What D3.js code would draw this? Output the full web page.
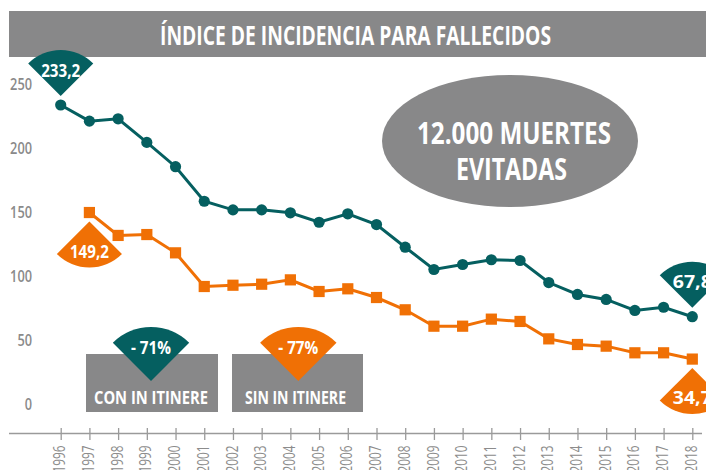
<!DOCTYPE html>
<html>
<head>
<meta charset="utf-8">
<script src="https://cdn.jsdelivr.net/npm/d3@7"></script>
<style>
  html, body { margin: 0; padding: 0; background: #fff; }
  svg { display: block; font-family: "Open Sans", "Noto Sans", sans-serif; }
</style>
</head>
<body>
<svg id="chart" width="706" height="470"></svg>
<script>
// ---------- data ----------
const years = ["1996","1997","1998","1999","2000","2001","2002","2003","2004","2005","2006","2007","2008","2009","2010","2011","2012","2013","2014","2015","2016","2017","2018"];
const conItinere = [233.2, 220.6, 222.4, 204.0, 185.0, 158.0, 151.3, 151.3, 149.0, 141.6, 148.2, 139.8, 122.1, 104.7, 108.6, 112.3, 111.7, 94.5, 85.2, 81.3, 72.7, 75.2, 67.8];
const sinItinere = [null, 149.2, 131.3, 132.0, 117.7, 91.4, 92.4, 93.2, 96.6, 87.5, 89.6, 82.8, 73.2, 60.4, 60.4, 65.9, 64.1, 50.5, 46.1, 44.8, 39.6, 39.6, 34.7];
const yTicks = [0, 50, 100, 150, 200, 250];
const title = "ÍNDICE DE INCIDENCIA PARA FALLECIDOS";
const bubbleLines = ["12.000 MUERTES", "EVITADAS"];
const boxLabels = ["CON IN ITINERE", "SIN IN ITINERE"];
const reductions = ["- 71%", "- 77%"];
const endLabels = { conFirst: "233,2", sinFirst: "149,2", conLast: "67,8", sinLast: "34,7" };

// ---------- style ----------
const GREEN = "#055f60";
const ORANGE = "#f07005";
const GRAY = "#888889";
const AXIS_GRAY = "#9a9a9a";
const LABEL_GRAY = "#8a8a8a";

const svg = d3.select("#chart");

const x = d3.scalePoint().domain(years).range([60.7, 692.3]);
const y = d3.scaleLinear().domain([0, 250]).range([403.5, 83.5]);

function label(parent, px, py, str, opts) {
  const t = parent.append("text")
    .attr("x", px).attr("y", py)
    .attr("text-anchor", opts.anchor || "middle")
    .attr("font-size", opts.size)
    .attr("font-weight", opts.weight || 700)
    .attr("fill", opts.fill || "#fff")
    .text(str);
  if (opts.width) t.attr("textLength", opts.width).attr("lengthAdjust", "spacingAndGlyphs");
  return t;
}

// ---------- title bar ----------
svg.append("rect").attr("x", 9).attr("y", 11).attr("width", 697).attr("height", 46).attr("fill", GRAY);
label(svg, 355.5, 45, title, { size: 26, width: 391 });

// ---------- big ellipse ----------
svg.append("ellipse").attr("cx", 510).attr("cy", 141).attr("rx", 128).attr("ry", 66).attr("fill", GRAY);
label(svg, 514, 144, bubbleLines[0], { size: 30, width: 194 });
label(svg, 511.5, 180, bubbleLines[1], { size: 30, width: 111 });

// ---------- y labels ----------
const yl = svg.append("g");
yTicks.forEach(v => {
  label(yl, 32, y(v) + 6, String(v), { size: 16, weight: 600, fill: LABEL_GRAY, anchor: "end",
    width: String(v).length * 7.3 });
});

// ---------- x axis ----------
svg.append("line").attr("x1", 9).attr("x2", 702).attr("y1", 433.5).attr("y2", 433.5)
  .attr("stroke", AXIS_GRAY).attr("stroke-width", 1.6);
const xAxis = svg.append("g").attr("transform", "translate(0,433.5)")
  .call(d3.axisBottom(x).tickSize(0));
xAxis.select(".domain").remove();
xAxis.selectAll(".tick line").attr("y1", -5.5).attr("y2", 6.5).attr("stroke", AXIS_GRAY).attr("stroke-width", 1.3);
xAxis.selectAll(".tick text")
  .attr("x", 0).attr("y", 0).attr("dy", "0.36em")
  .attr("transform", "translate(-1.5,12) rotate(-90) scale(0.76,1)")
  .attr("text-anchor", "end")
  .attr("font-family", "'Open Sans', sans-serif")
  .attr("font-size", 15.5)
  .attr("fill", "#8c8c8c");

// ---------- boxes ----------
const boxes = [{ x0: 86, x1: 218 }, { x0: 232, x1: 363 }];
const boxColors = [GREEN, ORANGE];
const boxTextW = [114, 101];
boxes.forEach((b, i) => {
  svg.append("rect").attr("x", b.x0).attr("y", 354).attr("width", b.x1 - b.x0).attr("height", 58).attr("fill", GRAY);
  label(svg, (b.x0 + b.x1) / 2 + (i === 0 ? -1 : -2), 403.5, boxLabels[i], { size: 17, width: boxTextW[i] });
});

// wedge generator
const r = 46;
const downWedge = d3.arc().innerRadius(0).outerRadius(r).startAngle(-Math.PI / 4).endAngle(Math.PI / 4);
const upWedge = d3.arc().innerRadius(0).outerRadius(r).startAngle(3 * Math.PI / 4).endAngle(5 * Math.PI / 4);
const bigDown = d3.arc().innerRadius(0).outerRadius(54).startAngle(-Math.PI / 4).endAngle(Math.PI / 4);

// box wedges
const boxApex = [151, 298.3];
boxApex.forEach((ax, i) => {
  svg.append("path").attr("d", bigDown()).attr("transform", `translate(${ax},381)`).attr("fill", boxColors[i]);
  label(svg, ax, 354, reductions[i], { size: 17, width: 40 });
});

// ---------- lines ----------
const lineGen = d3.line().defined(d => d.v != null).x(d => x(d.year)).y(d => y(d.v));
const conData = years.map((yr, i) => ({ year: yr, v: conItinere[i] }));
const sinData = years.map((yr, i) => ({ year: yr, v: sinItinere[i] })).filter(d => d.v != null);

svg.append("path").datum(conData).attr("d", lineGen).attr("fill", "none").attr("stroke", GREEN).attr("stroke-width", 3);
svg.append("path").datum(sinData).attr("d", lineGen).attr("fill", "none").attr("stroke", ORANGE).attr("stroke-width", 3);

svg.append("g").selectAll("circle").data(conData).join("circle")
  .attr("cx", d => x(d.year)).attr("cy", d => y(d.v)).attr("r", 5.6).attr("fill", GREEN);
svg.append("g").selectAll("rect").data(sinData).join("rect")
  .attr("x", d => x(d.year) - 5.6).attr("y", d => y(d.v) - 5.6).attr("width", 11.2).attr("height", 11.2).attr("fill", ORANGE);

// ---------- end-point callouts ----------
const gap = 9;
function callout(year, value, dir, color, str) {
  const ax = x(year);
  const ay = dir === "down" ? y(value) - gap : y(value) + gap;
  svg.append("path").attr("d", dir === "down" ? downWedge() : upWedge())
    .attr("transform", `translate(${ax},${ay})`).attr("fill", color);
  const ty = dir === "down" ? ay - 19.5 : ay + 36;
  label(svg, ax, ty, str, { size: 17, width: 39 });
}
callout(years[0], conItinere[0], "down", GREEN, endLabels.conFirst);
callout(years[1], sinItinere[1], "up", ORANGE, endLabels.sinFirst);
callout(years[years.length - 1], conItinere[conItinere.length - 1], "down", GREEN, endLabels.conLast);
callout(years[years.length - 1], sinItinere[sinItinere.length - 1], "up", ORANGE, endLabels.sinLast);
</script>
</body>
</html>
